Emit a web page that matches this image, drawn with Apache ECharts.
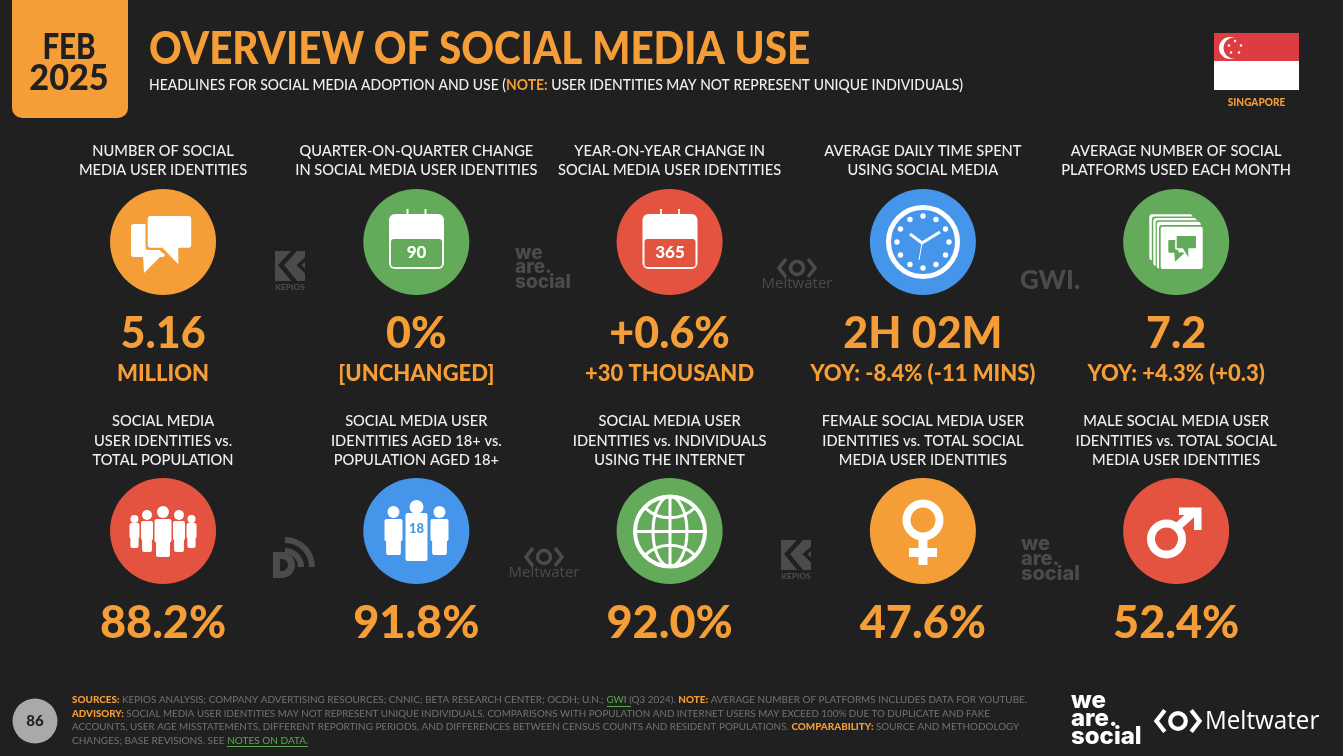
<!DOCTYPE html>
<html lang="en">
  <head>
    <meta charset="UTF-8" />
    <title>Overview of social media use</title>
    <script src="https://cdn.jsdelivr.net/npm/echarts@6/dist/echarts.min.js"></script>
    <style>
      html, body { margin: 0; padding: 0; background: #202020; }
      #main { width: 1343px; height: 756px; }
    </style>
  </head>
  <body>
    <div id="main"></div>

    <script>
      var columns = ["c1", "c2", "c3", "c4", "c5"]
      var rows = ["top", "bottom"]
      var headers = [
        ["NUMBER OF SOCIAL\nMEDIA USER IDENTITIES", "QUARTER-ON-QUARTER CHANGE\nIN SOCIAL MEDIA USER IDENTITIES", "YEAR-ON-YEAR CHANGE IN\nSOCIAL MEDIA USER IDENTITIES", "AVERAGE DAILY TIME SPENT\nUSING SOCIAL MEDIA", "AVERAGE NUMBER OF SOCIAL\nPLATFORMS USED EACH MONTH"],
        ["SOCIAL MEDIA\nUSER IDENTITIES vs.\nTOTAL POPULATION", "SOCIAL MEDIA USER\nIDENTITIES AGED 18+ vs.\nPOPULATION AGED 18+", "SOCIAL MEDIA USER\nIDENTITIES vs. INDIVIDUALS\nUSING THE INTERNET", "FEMALE SOCIAL MEDIA USER\nIDENTITIES vs. TOTAL SOCIAL\nMEDIA USER IDENTITIES", "MALE SOCIAL MEDIA USER\nIDENTITIES vs. TOTAL SOCIAL\nMEDIA USER IDENTITIES"],
      ]
      var values = [
        ["5.16", "0%", "+0.6%", "2H 02M", "7.2"],
        ["88.2%", "91.8%", "92.0%", "47.6%", "52.4%"],
      ]
      var subValues = ["MILLION", "[UNCHANGED]", "+30 THOUSAND", "YOY: -8.4% (-11 MINS)", "YOY: +4.3% (+0.3)"]
      var ORANGE = "#f59d37", GREEN = "#63ab5b", RED = "#e45340", BLUE = "#4595ea"
      var circleColors = [
        [ORANGE, GREEN, RED, BLUE, GREEN],
        [RED, BLUE, GREEN, ORANGE, RED],
      ]

      var BG = "#202020", WM = "#4b4b4b", FONT = "Lato"
      var mCharts = echarts.init(document.getElementById("main"))
      var g = []

      // 小工具
      function text(t, x, y, font, fill, align, sx) {
        g.push({
          type: "text", z: 20, silent: true, scaleX: sx || 1, originX: x, originY: y,
          style: { text: t, x: x, y: y, font: font + " " + FONT, fill: fill, align: align || "center", verticalAlign: "middle" },
        })
      }
      function rect(x, y, w, h, fill, r) {
        g.push({ type: "rect", z: 20, silent: true, shape: { x: x, y: y, width: w, height: h, r: r || 0 }, style: { fill: fill } })
      }
      function circle(cx, cy, r, fill, stroke, lw) {
        g.push({ type: "circle", z: 20, silent: true, shape: { cx: cx, cy: cy, r: r }, style: { fill: fill || "none", stroke: stroke || "none", lineWidth: lw || 0 } })
      }
      function poly(points, fill) {
        g.push({ type: "polygon", z: 20, silent: true, shape: { points: points }, style: { fill: fill } })
      }
      function line(points, stroke, lw) {
        g.push({ type: "polyline", z: 20, silent: true, shape: { points: points }, style: { fill: "none", stroke: stroke, lineWidth: lw, lineJoin: "miter" } })
      }
      function arc(cx, cy, r, a, b, stroke, lw) {
        g.push({ type: "arc", z: 20, silent: true, shape: { cx: cx, cy: cy, r: r, startAngle: a, endAngle: b }, style: { fill: "none", stroke: stroke, lineWidth: lw } })
      }

      // 左上角日期 + 标题
      rect(12, -12, 116, 130, ORANGE, 10)
      text("FEB", 69, 47, "900 36px", BG, "center", 0.82)
      text("2025", 69, 78, "900 36px", BG, "center", 0.95)
      text("OVERVIEW OF SOCIAL MEDIA USE", 149, 49, "900 45px", ORANGE, "left", 0.898)
      g.push({
        type: "text", z: 20, silent: true, scaleX: 0.9, originX: 149, originY: 85,
        style: {
          x: 149, y: 85, align: "left", verticalAlign: "middle",
          text: "HEADLINES FOR SOCIAL MEDIA ADOPTION AND USE ({o|NOTE:} USER IDENTITIES MAY NOT REPRESENT UNIQUE INDIVIDUALS)",
          font: "500 15.5px " + FONT, fill: "#f0f0f0",
          rich: { o: { fill: ORANGE, fontWeight: 700, fontSize: 15.5, fontFamily: FONT } },
        },
      })

      // 国旗
      rect(1214, 33, 85, 28, "#dd3c43")
      rect(1214, 61, 85, 29, "#ffffff")
      circle(1230, 48, 11, "#ffffff")
      circle(1234, 48, 10.5, "#dd3c43")
      ;[[1235, 41], [1241, 45.5], [1239, 52.5], [1231, 52.5], [1229, 45.5]].forEach(function (p) {
        circle(p[0], p[1], 1.2, "#ffffff")
      })
      text("SINGAPORE", 1256.5, 103, "900 10.5px", ORANGE, "center", 0.96)

      // 图标: 对话气泡
      function bubbles() {
        rect(131, 224, 34, 33, "#fff", 3)
        poly([[143, 255], [144, 273], [161, 256]], "#fff")
        rect(145.5, 214, 48, 36, ORANGE, 3)
        poly([[158, 249], [180, 267], [180, 249]], ORANGE)
        rect(147.7, 216, 43.5, 31.7, "#fff", 3)
        poly([[161.7, 247], [178.3, 264.3], [178.3, 247]], "#fff")
      }
      // 图标: 日历
      function calendar(cx, color, label) {
        var x = cx - 27.5
        rect(x, 214, 55, 55, "#fff", 6)
        rect(x + 2, 239, 51, 28, color, 3)
        line([[x + 18.5, 209], [x + 18.5, 220]], "#fff", 2)
        line([[x + 36.5, 209], [x + 36.5, 220]], "#fff", 2)
        text(label, cx, 253, "900 17px", "#fff")
      }
      // 图标: 时钟
      function clock(cx, cy) {
        circle(cx, cy, 34.5, "none", "#fff", 5)
        for (var i = 0; i < 12; i++) {
          var a = (i * Math.PI) / 6
          circle(cx + 26 * Math.cos(a), cy + 26 * Math.sin(a), 2.7, "#fff")
        }
        line([[cx - 13, cy - 8], [cx - 1, cy + 1], [cx + 17, cy - 10]], "#fff", 3)
        line([[cx - 1, cy + 1], [cx - 4, cy + 18]], "#fff", 1)
      }
      // 图标: 叠放卡片
      function cards() {
        rect(1149.3, 214.3, 43.4, 46, "#fff", 3)
        rect(1151.8, 216.5, 43.4, 46, GREEN, 3)
        rect(1153.3, 218, 43.4, 48, "#fff", 3)
        rect(1155.6, 220.3, 44, 48, GREEN, 3)
        rect(1156.8, 221.8, 44, 47, "#fff", 3)
        rect(1159, 225, 46, 47, GREEN, 3)
        rect(1160.7, 226.7, 42, 42.3, "#fff", 2)
        rect(1168.3, 240, 10, 12.7, GREEN, 1)
        poly([[1174.3, 252], [1175, 261.7], [1185, 252.5]], GREEN)
        rect(1175.2, 234.5, 22.3, 15.3, "#fff", 1)
        poly([[1180, 249], [1189.5, 259], [1189.5, 249]], "#fff")
        rect(1176.7, 236, 19.3, 12.3, GREEN, 1)
        poly([[1182.7, 248], [1188.3, 257.3], [1188.3, 248]], GREEN)
      }
      // 图标: 人
      function person(cx, headY, hr, halfW, top, bottom) {
        circle(cx, headY, hr, "#fff")
        rect(cx - halfW, top, halfW * 2, (bottom - top) * 0.62, "#fff", 2)
        rect(cx - halfW * 0.82, top + 4, halfW * 1.64, bottom - top - 4, "#fff", 2)
      }
      function crowd(cx) {
        person(cx - 28.5, 519, 4, 5, 523, 548)
        person(cx + 28.5, 519, 4, 5, 523, 548)
        person(cx - 16, 515, 5, 6, 521, 552)
        person(cx + 16, 515, 5, 6, 521, 552)
        person(cx, 512, 6, 8.5, 519, 557)
      }
      function trio(cx, color) {
        person(cx - 23, 512, 6, 9, 519, 555)
        person(cx + 23, 512, 6, 9, 519, 555)
        circle(cx, 507, 7, "#fff")
        rect(cx - 11, 513, 22, 48, "#fff", 2)
        text("18", cx, 529, "900 13px", color)
      }
      // 图标: 地球
      function globe(cx, cy) {
        var R = 35
        circle(cx, cy, R, "none", "#fff", 4)
        g.push({ type: "ellipse", z: 20, silent: true, shape: { cx: cx, cy: cy, rx: 17, ry: R }, style: { fill: "none", stroke: "#fff", lineWidth: 3 } })
        line([[cx, cy - R], [cx, cy + R]], "#fff", 3)
        line([[cx - R, cy], [cx + R, cy]], "#fff", 3)
        arc(cx, cy - 50, 36.25, 0.81, 2.33, "#fff", 3)
        arc(cx, cy + 50, 36.25, -2.33, -0.81, "#fff", 3)
      }
      function female(cx) {
        circle(cx, 520, 16.5, "none", "#fff", 8)
        rect(cx - 4.5, 540, 9, 25, "#fff")
        rect(cx - 14, 548, 28, 9, "#fff")
      }
      function male(cx) {
        circle(cx - 9.5, 539, 15.5, "none", "#fff", 8)
        line([[cx - 2, 530], [cx + 20, 510]], "#fff", 8)
        poly([[cx + 3, 507.5], [cx + 25.5, 507.5], [cx + 25.5, 530], [cx + 18, 530], [cx + 18, 515], [cx + 3, 515]], "#fff")
      }

      bubbles()
      calendar(416.5, GREEN, "90")
      calendar(670, RED, "365")
      clock(923, 242)
      cards()
      crowd(163)
      trio(416.5, BLUE)
      globe(670, 531.5)
      female(923)
      male(1176)

      // 水印 logo
      function kepios(x, y) {
        rect(x, y, 30, 30, WM)
        line([[x + 20, y - 1], [x + 6, y + 14], [x + 20, y + 31]], BG, 4.5)
        line([[x + 31, y + 8], [x + 24, y + 14], [x + 31, y + 21]], BG, 3.5)
        text("KEPIOS", x + 15, y + 36.5, "900 8.3px", WM)
      }
      function weAreSocial(x, y, size, color, step) {
        g.push({
          type: "text", z: 20, silent: true,
          style: { text: "we\nare.\nsocial", x: x, y: y, align: "left", verticalAlign: "top", font: "800 " + size + "px Inter", fill: color, lineHeight: step },
        })
      }
      function meltIcon(cx, cy, s, color) {
        line([[cx - 11 * s, cy - 9 * s], [cx - 18 * s, cy], [cx - 11 * s, cy + 9 * s]], color, 3.5 * s)
        line([[cx + 11 * s, cy - 9 * s], [cx + 18 * s, cy], [cx + 11 * s, cy + 9 * s]], color, 3.5 * s)
        circle(cx, cy, 6.5 * s, "none", color, 3.5 * s)
      }
      function meltwater(cx, cy) {
        meltIcon(cx, cy, 1, WM)
        g.push({ type: "text", z: 20, silent: true, style: { text: "Meltwater", x: cx, y: cy + 16, align: "center", verticalAlign: "middle", font: "400 15px 'Open Sans'", fill: WM } })
      }
      kepios(275, 251)
      weAreSocial(515, 246, 19, WM, 14.5)
      meltwater(797, 268)
      text("GWI.", 1050, 281, "900 26px", WM)
      // DataReportal
      arc(285, 567, 27, -Math.PI / 2, 0, WM, 6)
      arc(285, 567, 16, -Math.PI / 2, 0, WM, 6)
      rect(273, 552, 7, 26, WM)
      rect(273, 552, 9, 7, WM)
      rect(273, 571, 9, 7, WM)
      arc(282, 565, 9.5, -Math.PI / 2, Math.PI / 2, WM, 7)
      meltwater(544, 557)
      kepios(781, 540)
      weAreSocial(1021, 536, 20, WM, 15)

      // 页脚
      circle(35, 721, 22.5, "#a9a9a9")
      text("86", 35, 721, "900 15px", BG)
      var FG = "#737373"
      var footRich = {
        o: { fill: ORANGE, fontWeight: 900, fontSize: 10.2, fontFamily: FONT },
        g: { fill: "#58a84f", fontWeight: 400, fontSize: 10.2, fontFamily: FONT },
      }
      var footLines = [
        "{o|SOURCES:} KEPIOS ANALYSIS; COMPANY ADVERTISING RESOURCES; CNNIC; BETA RESEARCH CENTER; OCDH; U.N.; {g|GWI} (Q3 2024). {o|NOTE:} AVERAGE NUMBER OF PLATFORMS INCLUDES DATA FOR YOUTUBE.",
        "{o|ADVISORY:} SOCIAL MEDIA USER IDENTITIES MAY NOT REPRESENT UNIQUE INDIVIDUALS. COMPARISONS WITH POPULATION AND INTERNET USERS MAY EXCEED 100% DUE TO DUPLICATE AND FAKE",
        "ACCOUNTS, USER AGE MISSTATEMENTS, DIFFERENT REPORTING PERIODS, AND DIFFERENCES BETWEEN CENSUS COUNTS AND RESIDENT POPULATIONS. {o|COMPARABILITY:} SOURCE AND METHODOLOGY",
        "CHANGES; BASE REVISIONS. SEE {g|NOTES ON DATA}.",
      ]
      var footScale = [0.973, 0.961, 0.97, 0.985]
      footLines.forEach(function (l, i) {
        var y = 700 + i * 13.6
        g.push({
          type: "text", z: 20, silent: true, scaleX: footScale[i], originX: 72, originY: y,
          style: { text: l, x: 72, y: y, align: "left", verticalAlign: "middle", font: "400 10.2px " + FONT, fill: FG, rich: footRich },
        })
      })
      rect(607, 706, 24, 1, "#58a84f")
      rect(227, 746, 81, 1, "#58a84f")

      weAreSocial(1071, 692, 24, "#fff", 18)
      meltIcon(1178, 721, 1.2, "#fff")
      g.push({ type: "text", z: 20, silent: true, scaleX: 0.93, originX: 1205, originY: 722, style: { text: "Meltwater", x: 1205, y: 722, align: "left", verticalAlign: "middle", font: "400 26px 'Open Sans'", fill: "#fff" } })

      // 圆圈和数字走同一套类目坐标
      function cells(fn) {
        var out = []
        rows.forEach(function (r, j) {
          columns.forEach(function (c, i) {
            out.push(fn(i, j))
          })
        })
        return out
      }
      var headerOffset = [-81.5, -90.5]
      var valueOffset = [92.5, 92.5]
      var valueSize = [43, 45]

      var option = {
        backgroundColor: BG,
        animation: false,
        // 网格撑满内容区,类目中心正好落在各圆心
        grid: { left: 36.4, top: 97.5, width: 1266.4, height: 578 },
        xAxis: { type: "category", data: columns, show: false },
        yAxis: { type: "category", data: rows, inverse: true, show: false },
        tooltip: { show: false },
        series: [
          {
            name: "circles",
            type: "scatter",
            silent: true,
            symbolSize: 106,
            itemStyle: { opacity: 1 },
            data: cells(function (i, j) {
              return { value: [i, j], itemStyle: { color: circleColors[j][i] } }
            }),
          },
          {
            name: "values",
            type: "scatter",
            silent: true,
            symbolSize: 0,
            itemStyle: { opacity: 1 },
            data: cells(function (i, j) {
              return {
                value: [i, j],
                label: { show: true, position: "inside", offset: [0, valueOffset[j]], formatter: values[j][i], color: ORANGE, fontFamily: FONT, fontWeight: 900, fontSize: valueSize[j], align: "center", verticalAlign: "middle" },
              }
            }),
          },
          {
            name: "subValues",
            type: "scatter",
            silent: true,
            symbolSize: 0,
            itemStyle: { opacity: 1 },
            data: subValues.map(function (s, i) {
              return {
                value: [i, 0],
                label: { show: true, position: "inside", offset: [0, 131.5], formatter: s, color: ORANGE, fontFamily: FONT, fontWeight: 900, fontSize: 22, align: "center", verticalAlign: "middle" },
              }
            }),
          },
        ],
      }

      mCharts.setOption(option)

      // 标题文字要压窄,label 不支持,改用 graphic,位置从坐标轴换算
      headers.forEach(function (row, j) {
        row.forEach(function (h, i) {
          var p = mCharts.convertToPixel({ gridIndex: 0 }, [i, j])
          var y = p[1] + headerOffset[j]
          g.push({
            type: "text", z: 20, silent: true, scaleX: 0.915, originX: p[0], originY: y,
            style: { text: h, x: p[0], y: y, align: "center", verticalAlign: "middle", font: "500 16px " + FONT, fill: "#f0f0f0", lineHeight: 19.5 },
          })
        })
      })
      mCharts.setOption({ graphic: { elements: g } })
    </script>
  </body>
</html>
